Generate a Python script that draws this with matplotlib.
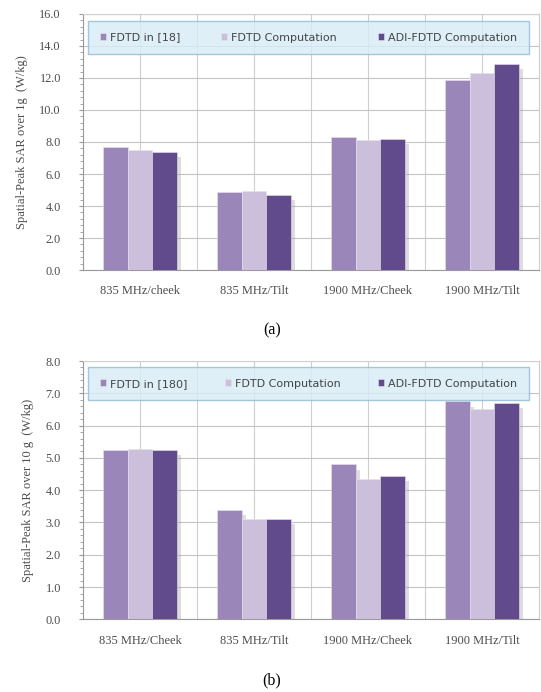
import numpy as np
import matplotlib
matplotlib.use("Agg")
import matplotlib.pyplot as plt

# data
cats_a = ["835 MHz/cheek", "835 MHz/Tilt", "1900 MHz/Cheek", "1900 MHz/Tilt"]
cats_b = ["835 MHz/Cheek", "835 MHz/Tilt", "1900 MHz/Cheek", "1900 MHz/Tilt"]
series_a = ["FDTD in [18]", "FDTD Computation", "ADI-FDTD Computation"]
series_b = ["FDTD in [180]", "FDTD Computation", "ADI-FDTD Computation"]
fdtd_ref_1g = [7.7, 4.9, 8.3, 11.9]
fdtd_1g = [7.5, 4.95, 8.1, 12.3]
adi_1g = [7.4, 4.7, 8.2, 12.9]
fdtd_ref_10g = [5.25, 3.4, 4.8, 6.75]
fdtd_10g = [5.28, 3.12, 4.35, 6.5]
adi_10g = [5.25, 3.1, 4.45, 6.7]

colors = ["#9a86b8", "#cbbfdb", "#614b8d"]
serif = "Liberation Serif"


def panel(ax, cats, names, vals, ymax, ystep, ylabel):
    x = np.arange(len(cats))
    w = 0.217
    for i, v in enumerate(vals):
        xs = x + (i - 1) * w
        # soft shadow to the right of each bar
        ax.bar(xs + 0.035, np.array(v) - 0.02 * ymax, w, color="#9e9e9e", alpha=0.35,
               zorder=2, linewidth=0)
        ax.bar(xs, v, w, color=colors[i], label=names[i], zorder=3,
               edgecolor="#e8e2ef", linewidth=0.4)
    ax.set_xlim(-0.5, len(cats) - 0.5)
    ax.set_ylim(0, ymax)
    ax.set_yticks(np.arange(0, ymax + 0.01, ystep))
    ax.set_yticklabels(["%.1f" % t for t in np.arange(0, ymax + 0.01, ystep)],
                       family=serif, fontsize=8.8, color="#4d4d4d")
    ax.set_yticks(np.arange(0, ymax + 0.01, ystep / 5), minor=True)
    ax.set_xticks(x)
    ax.set_xticklabels(cats, family=serif, fontsize=9, color="#4d4d4d")
    ax.set_xticks(np.arange(-0.5, len(cats), 0.5), minor=True)
    ax.tick_params(axis="x", which="both", length=0, pad=11)
    ax.tick_params(axis="y", which="major", length=3, color="#999999", pad=13)
    ax.tick_params(axis="y", which="minor", length=2, color="#999999")
    ax.grid(axis="y", which="major", color="#c4c4c4", linewidth=0.8, zorder=0)
    ax.grid(axis="x", which="both", color="#cfcfcf", linewidth=0.8, zorder=0)
    ax.grid(axis="y", which="minor", visible=False)
    ax.set_axisbelow(True)
    for s in ["top", "right"]:
        ax.spines[s].set_color("#d0d0d0")
    for s in ["left", "bottom"]:
        ax.spines[s].set_color("#9a9a9a")
    ax.set_ylabel(ylabel, family=serif, fontsize=9, color="#4d4d4d", labelpad=8)
    leg = ax.legend(loc="upper left", ncol=3, mode="expand", fontsize=8,
                    frameon=True, fancybox=False, handlelength=0.55, handleheight=0.55,
                    handletextpad=0.35, borderpad=1.05, borderaxespad=0,
                    columnspacing=0.8)
    leg.get_frame().set_facecolor("#d8ecf7")
    leg.get_frame().set_edgecolor("#8fbcd6")
    leg.get_frame().set_linewidth(1.0)
    leg.set_zorder(5)
    for t in leg.get_texts():
        t.set_color("#444444")
    return leg


fig = plt.figure(figsize=(5.41, 6.92), dpi=100)
ax1 = fig.add_axes([0.1534, 0.6098, 0.8429, 0.3700])
ax2 = fig.add_axes([0.1534, 0.1050, 0.8429, 0.3733])

leg1 = panel(ax1, cats_a, series_a, [fdtd_ref_1g, fdtd_1g, adi_1g], 16, 2.0,
             "Spatial-Peak SAR over 1g  (W/kg)")
leg1.set_bbox_to_anchor((0.011, 0.852, 0.967, 0.121), transform=ax1.transAxes)
leg2 = panel(ax2, cats_b, series_b, [fdtd_ref_10g, fdtd_10g, adi_10g], 8, 1.0,
             "Spatial-Peak SAR over 10 g  (W/kg)")
leg2.set_bbox_to_anchor((0.011, 0.86, 0.967, 0.117), transform=ax2.transAxes)

fig.text(0.503, 0.523, "(a)", family=serif, fontsize=11.5, ha="center", va="center")
fig.text(0.503, 0.0173, "(b)", family=serif, fontsize=11.5, ha="center", va="center")

fig.savefig("out.png", dpi=100)
